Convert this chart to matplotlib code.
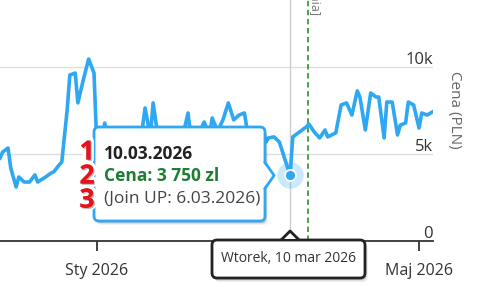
import matplotlib
matplotlib.use('Agg')
import matplotlib.pyplot as plt
import matplotlib.patheffects as pe
from matplotlib.patches import FancyBboxPatch, Polygon
from matplotlib.lines import Line2D
from matplotlib.transforms import IdentityTransform, blended_transform_factory

plt.rcParams['font.family'] = ['Open Sans', 'DejaVu Sans']

# dni liczone od 1.01.2026, ceny w PLN
days = [-36, -35, -33, -32, -30, -29, -27, -25, -23, -22, -19, -17, -16, -14, -13,
        -11, -10, -8, -7, -5, -3, -1, 0, 1, 3, 5, 7, 9, 11, 12, 14, 16, 17, 18, 20,
        21, 23, 25, 27, 28, 30, 32, 34, 35, 37, 39, 40, 42, 43, 45, 47, 49, 51, 53,
        55, 56, 58, 60, 62, 63, 64, 66, 68, 72, 73, 75, 78, 79, 81, 83, 85, 86, 89,
        91, 93, 95, 97, 98, 100, 102, 104, 105, 107, 108, 110, 112, 113, 115, 116,
        118, 120, 121, 123, 125]
prices = [4750, 5100, 5330, 4180, 3080, 3660, 3370, 3370, 3780, 3370, 3660, 3890, 3950, 4350, 4520,
          7520, 9540, 9650, 7930, 9250, 10460, 9650, 5600, 5200, 6770, 4930, 4350, 5220, 4640, 4930, 5220, 5790, 6480, 7640, 6000,
          7930, 5800, 5200, 4640, 5200, 5500, 6000, 7350, 6000, 5700, 6480, 6830, 6100, 7060, 6300, 6950, 7930, 6950, 7230,
          7350, 6370, 5200, 4930, 6370, 5680, 5910, 5970, 5680, 3750, 5970, 6200, 6540, 6710, 6250, 5910, 6370, 5970, 6200,
          7810, 7930, 7230, 8620, 8270, 6370, 8500, 8270, 8270, 5910, 7980, 7980, 6080, 6650, 6770, 7980,
          7810, 6480, 7350, 7230, 7410]

sel_day = 72
sel_price = 3750
join_day = 78.7

x_ticks = [0, 120]
x_labels = ['Sty 2026', 'Maj 2026']
y_ticks = [0, 5000, 10000]
y_labels = ['0', '5k', '10k']

tip_lines = ['10.03.2026', 'Cena: 3 750 zl', '(Join UP: 6.03.2026)']
badges = ['1', '2', '3']
date_tip = 'Wtorek, 10 mar 2026'
join_note = '[Join UP: 6.03.2026 dnia]'

BLUE = '#2ea8f2'
W, H = 482, 287

fig = plt.figure(figsize=(W / 100, H / 100), dpi=100)
ax = fig.add_axes([0, 46.5 / H, 433 / W, 240.5 / H])
ax.set_xlim(-36, 125.2)
ax.set_ylim(0, 13860)

ax.plot(days, prices, color=BLUE, lw=2.6, solid_joinstyle='round', zorder=3)

ax.set_yticks(y_ticks)
ax.yaxis.grid(True, color='#dddddd', lw=1)
ax.tick_params(axis='y', length=0, labelleft=False)
ax.set_axisbelow(True)
for side in ['top', 'left', 'right']:
    ax.spines[side].set_visible(False)
ax.spines['bottom'].set_color('#333333')
ax.spines['bottom'].set_linewidth(1.3)
ax.set_xticks(x_ticks)
ax.set_xticklabels(x_labels)
ax.tick_params(axis='x', length=7, width=1.3, color='#333333', labelcolor='#333333',
               labelsize=11.5, pad=9)

ytrans = blended_transform_factory(ax.transAxes, ax.transData)
for v, lab in zip(y_ticks, y_labels):
    ax.annotate(lab, (1.0, v), xycoords=ytrans, xytext=(0, 3), textcoords='offset pixels',
                ha='right', va='baseline', fontsize=12, color='#333333')

fig.text(454 / W, 1 - 110 / H, 'Cena (PLN)', rotation=270, ha='center', va='center',
         fontsize=11, color='#666666')

ax.axvline(sel_day, color='#cccccc', lw=1, zorder=1)
ax.axvline(join_day, color='#3c9a3c', lw=1.3, ls=(0, (3, 2)), zorder=2)
ax.text(join_day + 2.9, 13000, join_note, rotation=270, ha='center', va='bottom',
        fontsize=9, color='#777777')

ax.plot(sel_day, sel_price, 'o', ms=19, color=BLUE, alpha=0.25, mec='none', zorder=4)
ax.plot(sel_day, sel_price, 'o', ms=8, color=BLUE, mec='white', mew=1.3, zorder=5)

# --- tooltipy w pikselach (od lewego gornego rogu)
idt = IdentityTransform()
fig.canvas.draw()
px, py = ax.transData.transform((sel_day, sel_price))


def box(x0, y0, x1, y1, ec, z):
    for i, a in enumerate([0.10, 0.08, 0.06]):
        fig.add_artist(FancyBboxPatch((x0 + 1 + i, H - y1 - 2 - i), x1 - x0, y1 - y0,
                                      boxstyle='round,pad=0,rounding_size=5', fc='black',
                                      ec='none', alpha=a, transform=idt, zorder=z - 1))
    fig.add_artist(FancyBboxPatch((x0, H - y1), x1 - x0, y1 - y0,
                                  boxstyle='round,pad=0,rounding_size=5', fc='white',
                                  ec=ec, lw=2, transform=idt, zorder=z))


box(94, 127, 265, 221, BLUE, 10)
notch = [(263, py + 13), (px - 16, py), (263, py - 13)]
fig.add_artist(Polygon(notch, closed=True, fc='white', ec='none', transform=idt, zorder=11))
fig.add_artist(Line2D([notch[0][0] + 2, notch[1][0], notch[2][0] + 2],
                      [n[1] for n in notch], color=BLUE, lw=2, transform=idt, zorder=12))

tip_style = [('bold', '#222222'), ('bold', '#1e7d32'), ('normal', '#444444')]
for i, (txt, (fw, col)) in enumerate(zip(tip_lines, tip_style)):
    fig.text(104, H - 159 - 22 * i, txt, transform=idt, ha='left', va='baseline',
             fontsize=12.5, fontweight=fw, color=col, zorder=13)

for i, b in enumerate(badges):
    fig.text(87, H - 152 - 24 * i, b, transform=idt, ha='center', va='center',
             fontsize=19, fontweight='bold', color='#e5131b', zorder=14,
             path_effects=[pe.withStroke(linewidth=5, foreground='white'),
                           pe.SimplePatchShadow(offset=(1, -1), alpha=0.3), pe.Normal()])

bx, by = ax.transData.transform((sel_day, 0))
box(212, 240, 365, 278, '#222222', 10)
up = [(bx - 8, H - 240 + 1), (bx, H - 231), (bx + 8, H - 240 + 1)]
fig.add_artist(Polygon(up, closed=True, fc='white', ec='none', transform=idt, zorder=11))
fig.add_artist(Line2D([u[0] for u in up], [u[1] for u in up], color='#222222', lw=2,
                      transform=idt, zorder=12))
fig.text(288.5, H - 259, date_tip, transform=idt, ha='center', va='center', fontsize=10,
         color='#333333', zorder=13)

fig.savefig('out.png', dpi=100)
